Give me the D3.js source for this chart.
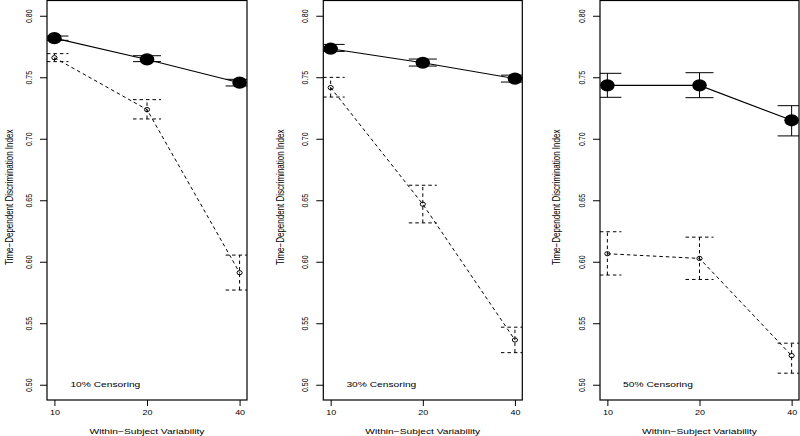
<!DOCTYPE html>
<html>
<head>
<meta charset="utf-8">
<script src="https://cdn.jsdelivr.net/npm/d3@7"></script>
<style>
  body { margin: 0; background: #fff; }
  svg { display: block; }
  text { font-family: "Liberation Sans", Arial, Helvetica, sans-serif; fill: #000; }
</style>
</head>
<body>
<div id="chart"></div>
<script>
// data
const categories = ["10", "20", "40"];
const panelLabels = ["10% Censoring", "30% Censoring", "50% Censoring"];
const yTicks = [0.50, 0.55, 0.60, 0.65, 0.70, 0.75, 0.80];

// solid series (big filled points)
const solidMean  = [[0.7818, 0.7645, 0.7456], [0.7732, 0.7618, 0.7489], [0.7434, 0.7434, 0.7150]];
const solidLower = [[0.7800, 0.7627, 0.7429], [0.7710, 0.7591, 0.7461], [0.7337, 0.7334, 0.7023]];
const solidUpper = [[0.7835, 0.7675, 0.7483], [0.7767, 0.7648, 0.7517], [0.7532, 0.7537, 0.7269]];

// dashed series (small open points)
const dashMean  = [[0.7659, 0.7237, 0.5911], [0.7416, 0.6468, 0.5364], [0.6065, 0.6027, 0.5237]];
const dashLower = [[0.7627, 0.7161, 0.5770], [0.7339, 0.6316, 0.5261], [0.5892, 0.5856, 0.5094]];
const dashUpper = [[0.7692, 0.7318, 0.6054], [0.7499, 0.6622, 0.5468], [0.6244, 0.6200, 0.5338]];

const width = 800, height = 436;
const boxLeft = [47, 323.3, 600];
const boxWidth = [200, 199, 199];
const yLabOffset = [-37, -43, -43];
const boxTop = 0.5, boxBottom = 400;
const sx = 1.28; // picture is stretched horizontally
const dash = "3.5,3";
const capHalf = 14;

const svg = d3.select('#chart').append('svg')
  .attr('width', width)
  .attr('height', height);

panelLabels.forEach((lab, p) => {
  const g = svg.append('g').attr('transform', `translate(${boxLeft[p]},0)`);
  const w = boxWidth[p];

  const x = d3.scaleLinear().domain([0.92, 3.08]).range([0, w]);
  const y = d3.scaleLinear().domain([0.4876, 0.8124]).range([boxBottom, boxTop]);

  g.append('clipPath').attr('id', 'clip' + p)
    .append('rect').attr('x', 0).attr('y', boxTop).attr('width', w).attr('height', boxBottom - boxTop);

  // y axis
  const yAxis = g.append('g')
    .call(d3.axisLeft(y).tickValues(yTicks).tickSize(7).tickSizeOuter(0).tickFormat(d3.format('.2f')));
  yAxis.select('.domain').remove();
  yAxis.selectAll('line').attr('stroke', '#000');
  yAxis.selectAll('text')
    .attr('x', null).attr('dy', null)
    .attr('text-anchor', 'middle')
    .attr('dominant-baseline', 'central')
    .style('font-size', '7px')
    .attr('transform', `translate(-18,0) scale(${sx},1) rotate(-90)`);

  // x axis
  const xAxis = g.append('g')
    .attr('transform', `translate(0,${boxBottom})`)
    .call(d3.axisBottom(x).tickValues([1, 2, 3]).tickSize(6).tickSizeOuter(0)
      .tickFormat(i => categories[i - 1]));
  xAxis.select('.domain').remove();
  xAxis.selectAll('line').attr('stroke', '#000');
  xAxis.selectAll('text')
    .attr('y', null).attr('dy', null)
    .attr('dominant-baseline', 'central')
    .style('font-size', '7px')
    .attr('transform', `translate(0,13) scale(${sx},1)`);

  // box
  g.append('rect')
    .attr('x', 0).attr('y', boxTop)
    .attr('width', w).attr('height', boxBottom - boxTop)
    .attr('fill', 'none').attr('stroke', '#000').attr('stroke-width', 1.2);

  // axis titles
  g.append('text')
    .attr('text-anchor', 'middle')
    .attr('dominant-baseline', 'central')
    .style('font-size', '8px')
    .attr('transform', `translate(${w / 2},431.5) scale(${sx},1)`)
    .text('Within\u2212Subject Variability');

  g.append('text')
    .attr('text-anchor', 'middle')
    .attr('dominant-baseline', 'central')
    .style('font-size', '8px')
    .attr('transform', `translate(${yLabOffset[p]},${(boxTop + boxBottom) / 2 - 3}) scale(${sx},1) rotate(-90)`)
    .text('Time\u2212Dependent Discrimination Index');

  const plot = g.append('g').attr('clip-path', `url(#clip${p})`);
  const idx = [0, 1, 2];

  const drawSeries = (mean, lower, upper, dashed) => {
    const da = dashed ? dash : null;
    // connecting line
    plot.append('path')
      .datum(idx)
      .attr('d', d3.line().x(i => x(i + 1)).y(i => y(mean[p][i])))
      .attr('fill', 'none')
      .attr('stroke', '#000')
      .attr('stroke-width', dashed ? 1 : 1.1)
      .attr('stroke-dasharray', da);
    // error bars
    const eb = plot.append('g').selectAll('g').data(idx).enter().append('g');
    eb.append('line')
      .attr('x1', i => x(i + 1)).attr('x2', i => x(i + 1))
      .attr('y1', i => y(lower[p][i])).attr('y2', i => y(upper[p][i]));
    eb.append('line')
      .attr('x1', i => x(i + 1) - capHalf).attr('x2', i => x(i + 1) + capHalf)
      .attr('y1', i => y(lower[p][i])).attr('y2', i => y(lower[p][i]));
    eb.append('line')
      .attr('x1', i => x(i + 1) - capHalf).attr('x2', i => x(i + 1) + capHalf)
      .attr('y1', i => y(upper[p][i])).attr('y2', i => y(upper[p][i]));
    eb.selectAll('line')
      .attr('stroke', '#000').attr('stroke-width', 1)
      .attr('stroke-dasharray', da);
    // points
    plot.append('g').selectAll('ellipse').data(idx).enter().append('ellipse')
      .attr('cx', i => x(i + 1))
      .attr('cy', i => y(mean[p][i]))
      .attr('rx', dashed ? 2.6 : 7.3)
      .attr('ry', dashed ? 2.1 : 6.1)
      .attr('fill', dashed ? 'none' : '#000')
      .attr('stroke', '#000')
      .attr('stroke-width', dashed ? 1 : 0);
  };

  drawSeries(solidMean, solidLower, solidUpper, false);
  drawSeries(dashMean, dashLower, dashUpper, true);

  // panel label
  g.append('text')
    .attr('text-anchor', 'middle')
    .attr('dominant-baseline', 'central')
    .style('font-size', '8px')
    .attr('transform', `translate(${x(1.55)},${y(0.5)}) scale(${sx},1)`)
    .text(lab);
});
</script>
</body>
</html>
